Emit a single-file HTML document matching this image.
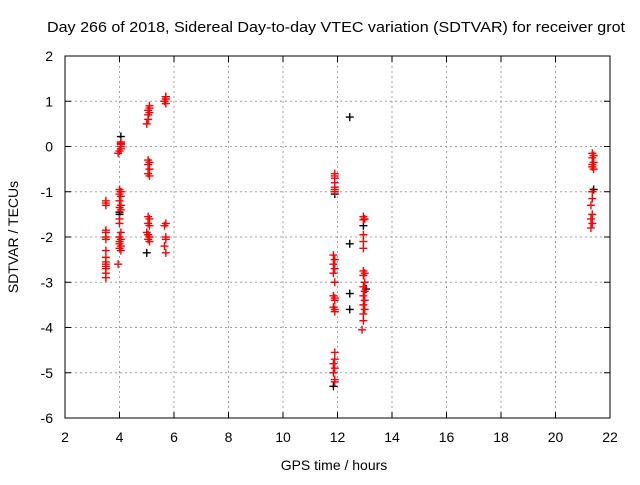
<!DOCTYPE html>
<html><head><meta charset="utf-8"><style>
body{margin:0;background:#fff}
svg text{font-family:"Liberation Sans",sans-serif;font-size:14px;fill:#000}
</style></head><body>
<svg id="chart" width="640" height="480" xmlns="http://www.w3.org/2000/svg">
<text x="47" y="32" style="font-size:15px" textLength="578" lengthAdjust="spacingAndGlyphs">Day 266 of 2018, Sidereal Day-to-day VTEC variation (SDTVAR) for receiver grot</text>
<text x="334" y="470" text-anchor="middle">GPS time / hours</text>
<text x="0" y="0" text-anchor="middle" transform="translate(18,237) rotate(-90)">SDTVAR / TECUs</text>
<g id="grid"></g><g id="axes"></g><g id="black"></g><g id="red"></g>
</svg>
<script>
const xTicks=[2,4,6,8,10,12,14,16,18,20,22];
const yTicks=[2,1,0,-1,-2,-3,-4,-5,-6];
const redX=[3.5,3.5,3.5,3.5,3.5,3.5,3.5,3.5,3.5,3.5,3.5,3.5,3.5,3.5,3.5,
4.05,4.05,4.05,4.05,4.05,4.0,3.95,4.0,4.05,4.0,4.05,4.0,4.05,4.0,4.05,4.0,4.0,4.05,4.0,4.05,4.0,4.05,4.0,4.05,4.0,3.95,
5.1,5.1,5.05,5.1,5.05,5.05,5.0,5.05,5.1,5.05,5.1,5.05,5.1,5.05,5.1,5.05,5.1,5.0,5.05,5.1,5.05,5.1,
5.7,5.7,5.65,5.7,5.7,5.65,5.7,5.7,5.65,5.7,
11.9,11.9,11.9,11.9,11.9,11.9,11.9,11.85,11.9,11.85,11.9,11.85,11.9,11.85,11.9,11.9,11.85,11.9,11.9,
11.9,11.9,11.85,11.9,11.85,11.9,11.9,
12.95,13.0,12.95,12.95,12.95,12.95,12.95,13.0,12.95,13.0,12.95,13.0,12.95,13.0,12.95,13.0,12.95,12.95,12.9,
21.35,21.4,21.35,21.4,21.35,21.35,21.4,21.35,21.35,21.3,21.35,21.3,21.35,21.3];
const redY=[-1.2,-1.25,-1.3,-1.85,-1.9,-2.0,-2.05,-2.3,-2.45,-2.55,-2.6,-2.65,-2.7,-2.8,-2.9,
0.1,0.05,0.0,-0.05,0.07,-0.1,-0.15,-0.95,-1.0,-1.05,-1.1,-1.2,-1.3,-1.35,-1.4,-1.6,-1.7,-1.9,-2.0,-2.05,-2.1,-2.2,-2.25,-2.3,-2.15,-2.6,
0.9,0.85,0.8,0.75,0.7,0.6,0.5,-0.3,-0.35,-0.4,-0.5,-0.6,-0.65,-1.55,-1.6,-1.7,-1.75,-1.9,-1.95,-2.0,-2.05,-2.1,
1.1,1.05,1.0,0.95,-1.7,-1.75,-2.0,-2.05,-2.2,-2.35,
-0.6,-0.65,-0.7,-0.8,-0.9,-0.95,-1.0,-2.4,-2.5,-2.6,-2.7,-2.8,-3.0,-3.3,-3.35,-3.4,-3.55,-3.6,-3.65,
-4.55,-4.7,-4.8,-4.9,-5.0,-5.15,-5.2,
-1.55,-1.6,-1.62,-1.95,-2.1,-2.25,-2.75,-2.8,-2.85,-3.0,-3.1,-3.2,-3.3,-3.4,-3.5,-3.6,-3.7,-3.85,-4.05,
-0.15,-0.2,-0.25,-0.35,-0.4,-0.45,-0.5,-1.0,-1.15,-1.3,-1.5,-1.6,-1.7,-1.8];
const blackX=[4.05,4.0,4.0,5.0,11.9,11.85,12.45,12.45,12.45,12.45,12.95,13.05,21.4,5.7];
const blackY=[0.22,-1.5,-1.45,-2.35,-1.05,-5.3,0.65,-2.15,-3.25,-3.6,-1.75,-3.15,-0.95,1.1];
const L=65,R=610,T=56,B=418;
const sx=v=>L+(v-2)/20*(R-L);
const sy=v=>T+(2-v)/8*(B-T);
const NS="http://www.w3.org/2000/svg";
function mk(tag,attrs,parent){const e=document.createElementNS(NS,tag);for(const k in attrs)e.setAttribute(k,attrs[k]);parent.appendChild(e);return e;}
const grid=document.getElementById('grid'),axes=document.getElementById('axes');
xTicks.forEach(v=>{const x=sx(v);
 if(v>2&&v<22){const g=mk('line',{x1:x,x2:x,y1:T,y2:B,stroke:'#a0a0a0','stroke-dasharray':'2,3'},grid);
 
 }
 mk('line',{x1:x,x2:x,y1:B,y2:B-6,stroke:'#000'},axes);mk('line',{x1:x,x2:x,y1:T,y2:T+6,stroke:'#000'},axes);
 const t=mk('text',{x:x,y:B+24,'text-anchor':'middle'},axes);t.textContent=v;
 
 });
yTicks.forEach(v=>{const y=sy(v);
 if(v<2&&v>-6){const g=mk('line',{x1:L,x2:R,y1:y,y2:y,stroke:'#a0a0a0','stroke-dasharray':'2,3'},grid);
 
 }
 mk('line',{x1:L,x2:L+6,y1:y,y2:y,stroke:'#000'},axes);mk('line',{x1:R,x2:R-6,y1:y,y2:y,stroke:'#000'},axes);
 const t=mk('text',{x:L-12,y:y+5,'text-anchor':'end'},axes);t.textContent=v;
 
 });
const fr=mk('rect',{x:L,y:T,width:R-L,height:B-T,fill:'none',stroke:'#000'},axes);


function pts(xs,ys,col,gid,name){const g=document.getElementById(gid);
 xs.forEach((xv,i)=>{const x=sx(xv),y=sy(ys[i]);
 const p=mk('path',{d:`M${x-4},${y}H${x+4}M${x},${y-4}V${y+4}`,stroke:col,'stroke-width':1.4},g);
 
 });}
pts(blackX,blackY,'#000','black','black-point');
pts(redX,redY,'#ff0000','red','red-point');
</script>
</body></html>
